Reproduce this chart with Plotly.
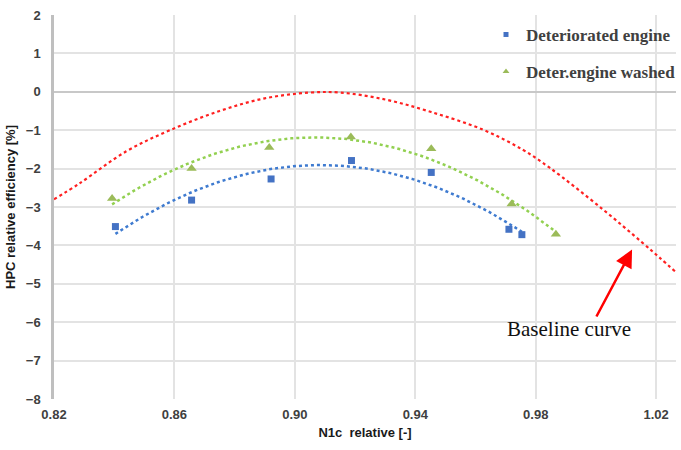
import numpy as np
import plotly.graph_objects as go

# Measured points: deteriorated engine
n1c_det = [0.8404, 0.8657, 0.8921, 0.9188, 0.9453, 0.9711, 0.9754]
eff_det = [-3.51, -2.82, -2.27, -1.79, -2.10, -3.58, -3.72]

# Measured points: deteriorated engine after washing
n1c_wash = [0.8393, 0.8657, 0.8915, 0.9186, 0.9453, 0.9720, 0.9867]
eff_wash = [-2.78, -2.00, -1.45, -1.18, -1.48, -2.92, -3.71]

# Baseline characteristic
n1c_base = [0.820, 0.8286, 0.844, 0.8588, 0.875, 0.890, 0.905, 0.915,
            0.930, 0.945, 0.9626, 0.9757, 0.9845, 1.0021, 1.0153, 1.0213, 1.0266]
eff_base = [-2.80, -2.38, -1.55, -0.99, -0.50, -0.17, -0.02, -0.02,
            -0.20, -0.52, -0.99, -1.51, -1.97, -3.05, -3.92, -4.33, -4.70]

x_ticks = [0.82, 0.86, 0.90, 0.94, 0.98, 1.02]
x_ticktext = ["0.82", "0.86", "0.90", "0.94", "0.98", "1.02"]
y_ticks = [2, 1, 0, -1, -2, -3, -4, -5, -6, -7, -8]

BLUE = "#4472C4"
GREEN = "#9BBB59"


def trend(x, y, n=120):
    """Second-order polynomial trendline over the span of the data."""
    c = np.polyfit(x, y, 2)
    xs = np.linspace(min(x), max(x), n)
    return xs, np.polyval(c, xs)


fig = go.Figure()

xs, ys = trend(n1c_det, eff_det)
fig.add_trace(go.Scatter(x=xs, y=ys, mode="lines", showlegend=False,
                         line=dict(color="#3F7BD0", width=2.5, dash="dot")))
xs, ys = trend(n1c_wash, eff_wash)
fig.add_trace(go.Scatter(x=xs, y=ys, mode="lines", showlegend=False,
                         line=dict(color="#92D050", width=2.5, dash="dot")))
fig.add_trace(go.Scatter(x=n1c_base, y=eff_base, mode="lines", showlegend=False,
                         line=dict(color="#FF2020", width=2.2, dash="dot", shape="spline")))

fig.add_trace(go.Scatter(x=n1c_det, y=eff_det, mode="markers", showlegend=False,
                         marker=dict(symbol="square", size=7, color=BLUE)))
fig.add_trace(go.Scatter(x=n1c_wash, y=eff_wash, mode="markers", showlegend=False,
                         marker=dict(symbol="triangle-up", size=9, color=GREEN)))

# Legend entries with the small key symbols
fig.add_trace(go.Scatter(x=[None], y=[None], mode="markers", name="Deteriorated engine",
                         legendgroup="a",
                         marker=dict(symbol="square", size=5, color=BLUE)))
fig.add_trace(go.Scatter(x=[None], y=[None], mode="markers", name="Deter.engine washed",
                         legendgroup="b",
                         marker=dict(symbol="triangle-up", size=6, color=GREEN)))

# Arrow pointing at the baseline curve
fig.add_annotation(x=1.012, y=-4.11, ax=0.9999, ay=-5.89, xref="x", yref="y",
                   axref="x", ayref="y", text="", showarrow=True,
                   arrowhead=2, arrowsize=1.4, arrowwidth=2.5, arrowcolor="#FF0000")
fig.add_annotation(x=0.9912, y=-6.18, xref="x", yref="y", text="Baseline curve",
                   showarrow=False, xanchor="center", yanchor="middle",
                   font=dict(family="Liberation Serif", size=21, color="#111111"))

tickfont = dict(family="Liberation Sans", size=13, color="#404040", weight="bold")
titlefont = dict(family="Liberation Sans", size=13, color="#1a1a1a", weight="bold")

fig.update_xaxes(range=[0.82, 1.02659], tickvals=x_ticks, ticktext=x_ticktext,
                 showgrid=True, gridcolor="#E3E3E3", gridwidth=1.5,
                 zeroline=False, showline=False, ticks="",
                 tickfont=tickfont, ticklabelstandoff=6,
                 title=dict(text="N1c  relative [-]", standoff=6, font=titlefont))
fig.update_yaxes(range=[-8, 2], tickvals=y_ticks,
                 showgrid=True, gridcolor="#E3E3E3", gridwidth=1.5,
                 zeroline=True, zerolinecolor="#C8C8C8", zerolinewidth=1.5,
                 showline=True, linecolor="#BFBFBF", linewidth=2.5, ticks="",
                 tickfont=tickfont, ticklabelstandoff=8,
                 title=dict(text="HPC relative efficiency [%]", standoff=8, font=titlefont))

fig.update_layout(
    width=681, height=450,
    margin=dict(l=54, r=0, t=15, b=51),
    paper_bgcolor="white", plot_bgcolor="white",
    showlegend=True,
    legend=dict(x=0.695, y=0.995, xanchor="left", yanchor="top",
                bgcolor="rgba(0,0,0,0)", tracegroupgap=12,
                font=dict(family="Liberation Serif", size=17, color="#404040", weight="bold")),
)

fig.write_html("out.html")
